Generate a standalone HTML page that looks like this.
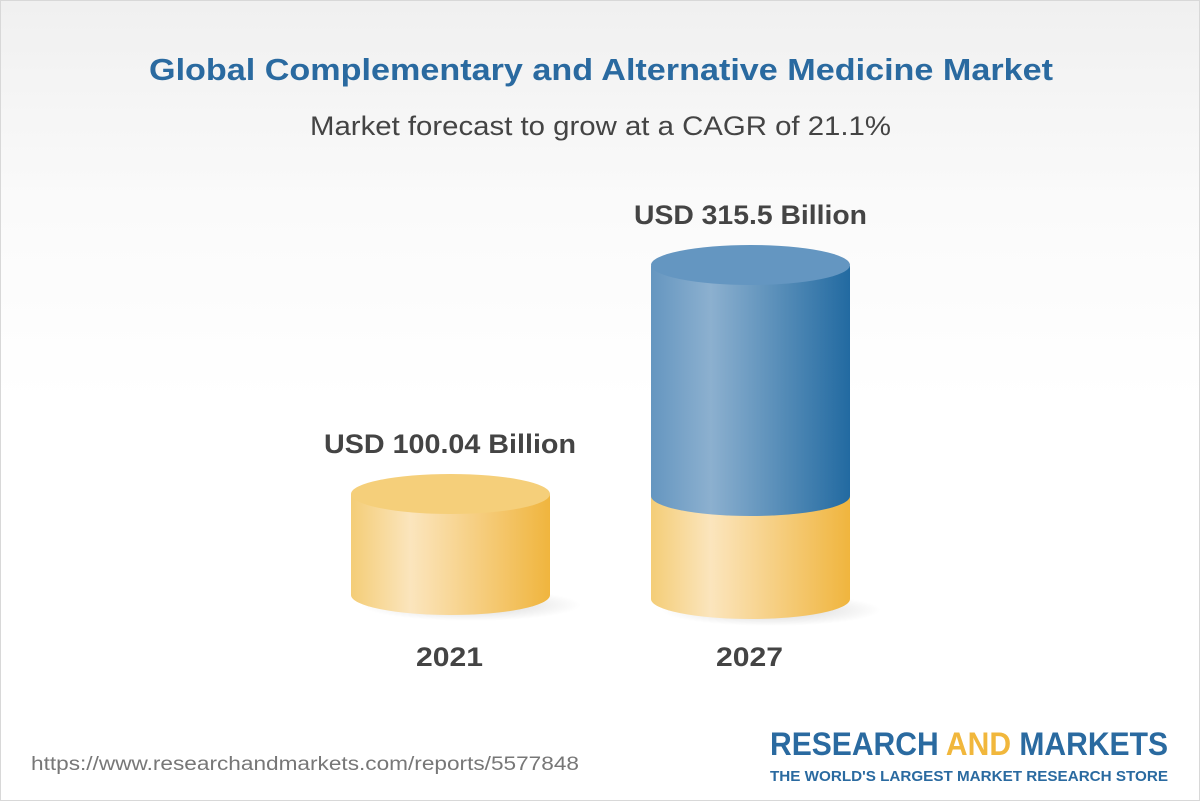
<!DOCTYPE html>
<html><head><meta charset="utf-8"><style>
body{margin:0;width:1200px;height:801px;overflow:hidden;font-family:"Liberation Sans",Arial,sans-serif}
.wrap{position:absolute;left:0;top:0;width:1198px;height:799px;border:1px solid #d8d8d8;background:linear-gradient(#f0f0f0 0px,#fafafa 200px,#fff 400px)}
</style></head><body><div class="wrap">
<svg width="1198" height="799" xmlns="http://www.w3.org/2000/svg" style="position:absolute;left:0;top:0">
<defs>
<linearGradient id="y" x1="0" x2="1"><stop offset="0" stop-color="#f4cd77"/><stop offset="0.3" stop-color="#fbe5bd"/><stop offset="1" stop-color="#f0b53e"/></linearGradient>
<linearGradient id="b" x1="0" x2="1"><stop offset="0" stop-color="#6596c0"/><stop offset="0.3" stop-color="#8cb0cf"/><stop offset="1" stop-color="#226aa1"/></linearGradient>
<radialGradient id="sh"><stop offset="0" stop-color="#000" stop-opacity="0.18"/><stop offset="1" stop-color="#000" stop-opacity="0"/></radialGradient>
</defs>
<text x="148" y="79" font-size="31" font-weight="bold" fill="#2a6aa0" textLength="904" lengthAdjust="spacingAndGlyphs">Global Complementary and Alternative Medicine Market</text>
<text x="309" y="134" font-size="27" fill="#444" textLength="581" lengthAdjust="spacingAndGlyphs">Market forecast to grow at a CAGR of 21.1%</text>
<ellipse cx="470" cy="604" rx="110" ry="16" fill="url(#sh)"/>
<ellipse cx="770" cy="609" rx="110" ry="16" fill="url(#sh)"/>
<path d="M350 493 V594 A99.5 20 0 0 0 549 594 V493 Z" fill="url(#y)"/>
<ellipse cx="449.5" cy="493" rx="99.5" ry="20" fill="#f5cf7a"/>
<path d="M650 495 V598 A99.5 20 0 0 0 849 598 V495 Z" fill="url(#y)"/>
<path d="M650 265 V495 A99.5 20 0 0 0 849 495 V265 Z" fill="url(#b)"/>
<ellipse cx="749.5" cy="264" rx="99.5" ry="20" fill="#6496c1"/>
<text x="323" y="452" font-size="27" font-weight="bold" fill="#444" textLength="252" lengthAdjust="spacingAndGlyphs">USD 100.04 Billion</text>
<text x="633" y="223" font-size="27" font-weight="bold" fill="#444" textLength="233" lengthAdjust="spacingAndGlyphs">USD 315.5 Billion</text>
<text x="415" y="665" font-size="27" font-weight="bold" fill="#444" textLength="67" lengthAdjust="spacingAndGlyphs">2021</text>
<text x="715" y="665" font-size="27" font-weight="bold" fill="#444" textLength="67" lengthAdjust="spacingAndGlyphs">2027</text>
<text x="30" y="769" font-size="19" fill="#777" textLength="548" lengthAdjust="spacingAndGlyphs">https://www.researchandmarkets.com/reports/5577848</text>
<text x="1167" y="754" text-anchor="end" font-size="32" font-weight="bold" fill="#2a6aa0" textLength="398" lengthAdjust="spacingAndGlyphs">RESEARCH <tspan fill="#f1b73c">AND</tspan> MARKETS</text>
<text x="1167" y="780" text-anchor="end" font-size="15" font-weight="bold" fill="#2a6aa0" textLength="398" lengthAdjust="spacingAndGlyphs">THE WORLD'S LARGEST MARKET RESEARCH STORE</text>
</svg></div></body></html>
